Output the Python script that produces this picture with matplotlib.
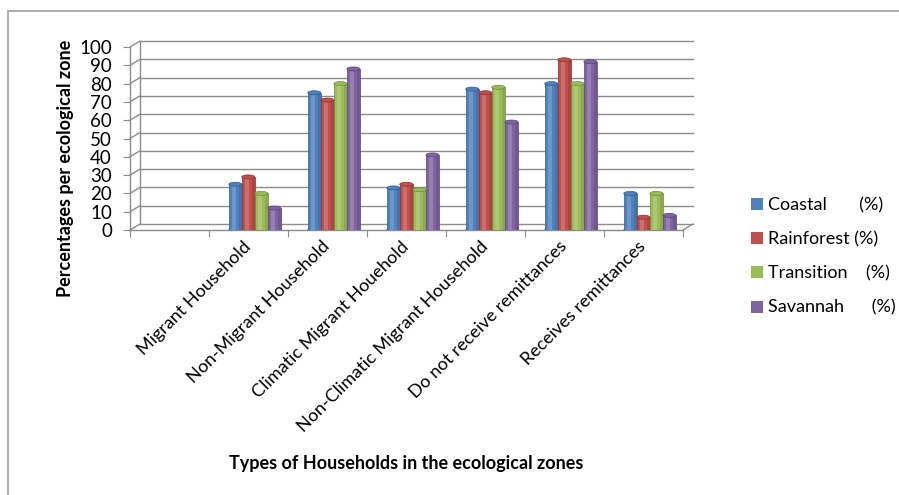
import matplotlib.pyplot as plt
from matplotlib.patches import Patch, Rectangle, Ellipse
from matplotlib.transforms import ScaledTranslation
import numpy as np

plt.rcParams['font.family'] = ['Lato', 'DejaVu Sans']

categories = ['', 'Migrant Household', 'Non-Migrant Household', 'Climatic Migrant Houehold',
              'Non-Climatic Migrant Household', 'Do not receive remittances', 'Receives remittances']
series = ['Coastal       (%)', 'Rainforest (%)', 'Transition    (%)', 'Savannah      (%)']
coastal = [np.nan, 25, 75, 23, 77, 80, 20]
rainforest = [np.nan, 29, 71, 25, 75, 93, 7]
transition = [np.nan, 20, 80, 22, 78, 80, 20]
savannah = [np.nan, 12, 88, 41, 59, 92, 8]
values = [coastal, rainforest, transition, savannah]
colors = ['#4F81BD', '#C0504D', '#9BBB59', '#8064A2']
dark = ['#2E5C93', '#8E2F2C', '#6E8C35', '#5A4379']

fig = plt.figure(figsize=(8.99, 4.95), dpi=100)
fig.patches.append(Rectangle((8 / 899, -0.1), 1.2, 1 - 11 / 495 + 0.1, transform=fig.transFigure,
                             fill=False, edgecolor='#A0A0A0', linewidth=1.2))
ax = fig.add_axes([130 / 899, 1 - 230 / 495, 553 / 899, 183 / 495])
ax.set_xlim(-0.5, 6.5)
ax.set_ylim(0, 100)
for s in ax.spines.values():
    s.set_visible(False)

# pseudo 3D back wall
back = ax.transData + ScaledTranslation(10 / 100, 6 / 100, fig.dpi_scale_trans)
for v in range(0, 101, 10):
    ax.plot([-0.5, 6.5], [v, v], color='#8C8C8C', lw=1.0, transform=back, clip_on=False, zorder=0)
    ax.annotate('', xy=(-0.5, v), xycoords=back, xytext=(-0.5, v), textcoords='data',
                arrowprops=dict(arrowstyle='-', color='#8C8C8C', lw=1.0, shrinkA=0, shrinkB=0))
ax.plot([-0.5, -0.5], [0, 100], color='#8C8C8C', lw=1.0, transform=back, clip_on=False, zorder=0)
ax.annotate('', xy=(6.5, 0), xycoords=back, xytext=(6.5, 0), textcoords='data',
            arrowprops=dict(arrowstyle='-', color='#8C8C8C', lw=1.0, shrinkA=0, shrinkB=0))
ax.plot([-0.5, 6.5], [0, 0], color='#8C8C8C', lw=1.0, clip_on=False, zorder=1)
ax.plot([-0.5, -0.5], [0, 100], color='#8C8C8C', lw=1.0, clip_on=False, zorder=1)

w = 0.165
x = np.arange(len(categories))
for i, (vals, c, d) in enumerate(zip(values, colors, dark)):
    pos = x + 0.08 + (i - 1.5) * w
    ax.bar(pos, vals, width=w, color=c, edgecolor=d, linewidth=0.5, zorder=3)
    ax.bar(pos - w * 0.12, vals, width=w * 0.3, color='white', alpha=0.18, linewidth=0, zorder=4)
    ax.bar(pos + w * 0.38, vals, width=w * 0.24, color=d, alpha=0.35, linewidth=0, zorder=4)
    for p, v in zip(pos, vals):
        if not np.isnan(v):
            ax.add_patch(Ellipse((p, v), w, 2.2, facecolor=c, edgecolor=d, lw=0.5, zorder=5))
            ax.add_patch(Ellipse((p, 0), w, 2.2, facecolor=d, edgecolor=d, lw=0.5, zorder=2))

ax.set_yticks(range(0, 101, 10))
ax.tick_params(axis='y', length=5, color='#8C8C8C', labelsize=13.5, pad=8)
ax.set_xticks(np.arange(-0.5, 7, 1))
ax.set_xticklabels([])
ax.tick_params(axis='x', length=5, color='#8C8C8C')
ax.set_xticks(x, minor=True)
ax.set_xticklabels(categories, minor=True, rotation=45, ha='right', va='top',
                   rotation_mode='anchor', fontsize=13)
ax.tick_params(axis='x', which='minor', length=0, pad=6)
shift = ScaledTranslation(-6 / 100, 0, fig.dpi_scale_trans)
for lab in ax.get_xticklabels(minor=True):
    lab.set_transform(lab.get_transform() + shift)

fig.text(65 / 899, 1 - 168 / 495, 'Percentages per ecological zone', rotation=90,
         ha='center', va='center', fontsize=13, fontweight='bold')
fig.text(406 / 899, 1 - 463 / 495, 'Types of Households in the ecological zones',
         ha='center', va='center', fontsize=13, fontweight='bold')

handles = [Patch(facecolor=c, edgecolor='none') for c in colors]
fig.legend(handles, series, loc='upper left', bbox_to_anchor=(744 / 899, 1 - 190 / 495),
           frameon=False, fontsize=13, handlelength=0.65, handleheight=0.65,
           handletextpad=0.3, labelspacing=1.0, borderaxespad=0)

fig.savefig('out.png', dpi=100)
